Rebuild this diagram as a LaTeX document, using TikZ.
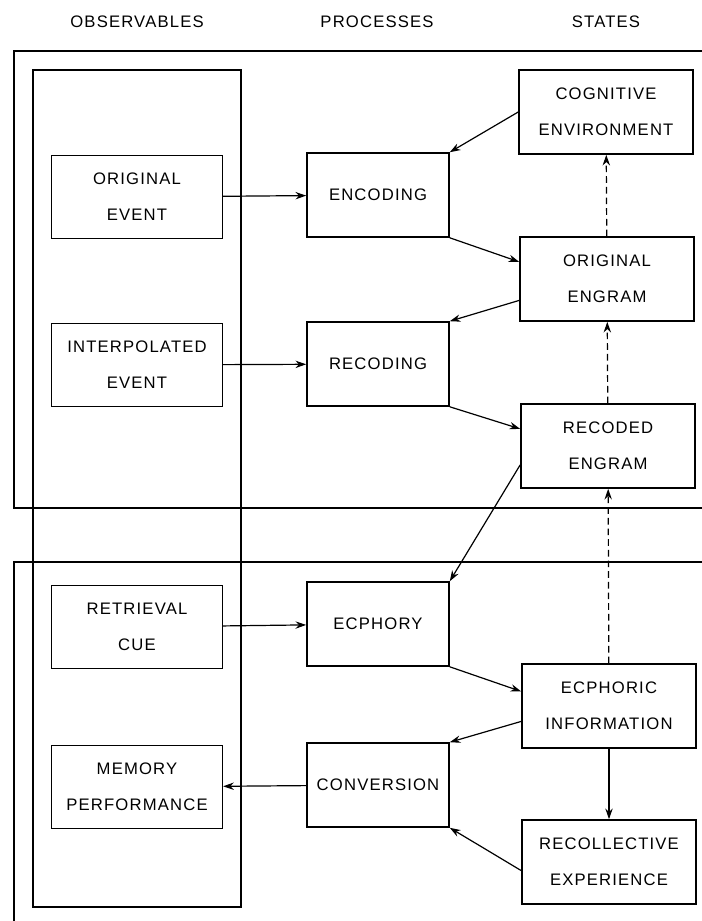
\documentclass[tikz,border=0pt]{standalone}
\usepackage{fontspec}
\usepackage{tikz}
\usetikzlibrary{calc,arrows.meta}

\newfontfamily\stencil[LetterSpace=7]{Liberation Sans}
\newcommand{\boxfont}{\stencil\fontsize{12.5}{27}\selectfont}

\begin{document}
\begin{tikzpicture}[x=0.75pt,y=-0.75pt,>={Stealth[length=8pt,width=5.5pt]},
    frame/.style={line width=1.1pt},
    box/.style={draw,line width=1.2pt,inner sep=0pt,align=center,font=\boxfont},
    obs/.style={box,minimum width=128pt,minimum height=62.5pt},
    proc/.style={box,minimum width=106.5pt,minimum height=63pt},
    state/.style={box,minimum width=130.5pt,minimum height=63pt},
    link/.style={->,line width=0.9pt},
    hint/.style={->,line width=0.9pt,dash pattern=on 5pt off 3pt}]
    \useasboundingbox (0,0) rectangle (702,921);

    \node[font=\boxfont] (hobs) at (137,22) {OBSERVABLES};
    \node[font=\boxfont] (hproc) at (377,22) {PROCESSES};
    \node[font=\boxfont] (hstate) at (606,22) {STATES};

    \draw[frame] (702,51) -- (14,51) -- (14,508) -- (702,508);
    \draw[frame] (702,562) -- (14,562) -- (14,921);
    \draw[frame] (33,70) rectangle (241,907);

    \node[obs] (oevent) at (137,197) {ORIGINAL\\EVENT};
    \node[obs] (ievent) at (137,365) {INTERPOLATED\\EVENT};
    \node[obs] (rcue) at (137,627) {RETRIEVAL\\CUE};
    \node[obs] (mperf) at (137,787) {MEMORY\\PERFORMANCE};

    \node[proc] (enc) at (378,195) {ENCODING};
    \node[proc] (rec) at (378,364) {RECODING};
    \node[proc] (ecph) at (378,624) {ECPHORY};
    \node[proc] (conv) at (378,785) {CONVERSION};

    \node[state] (cogenv) at (606,112) {COGNITIVE\\ENVIRONMENT};
    \node[state] (oengram) at (607,279) {ORIGINAL\\ENGRAM};
    \node[state] (rengram) at (608,446) {RECODED\\ENGRAM};
    \node[state] (einfo) at (609,706) {ECPHORIC\\INFORMATION};
    \node[state] (rexp) at (609,862) {RECOLLECTIVE\\EXPERIENCE};

    \draw[link] (oevent) -- (enc);
    \draw[link] (ievent) -- (rec);
    \draw[link] (rcue) -- (ecph);
    \draw[link] (conv) -- (mperf);

    \draw[link] (cogenv.west) -- (enc.north east);
    \draw[link] (enc.south east) -- ($(oengram.north west)!0.3!(oengram.south west)$);
    \draw[link] ($(oengram.north west)!0.75!(oengram.south west)$) -- (rec.north east);
    \draw[link] (rec.south east) -- ($(rengram.north west)!0.3!(rengram.south west)$);
    \draw[link] ($(rengram.north west)!0.72!(rengram.south west)$) -- (ecph.north east);
    \draw[link] (ecph.south east) -- ($(einfo.north west)!0.33!(einfo.south west)$);
    \draw[link] ($(einfo.north west)!0.68!(einfo.south west)$) -- (conv.north east);
    \draw[link] ($(rexp.north west)!0.6!(rexp.south west)$) -- (conv.south east);
    \draw[link] (einfo) -- (rexp);

    \foreach \a/\b in {oengram/cogenv, rengram/oengram, einfo/rengram}
      \draw[hint] (\a) -- (\b);
\end{tikzpicture}
\end{document}
